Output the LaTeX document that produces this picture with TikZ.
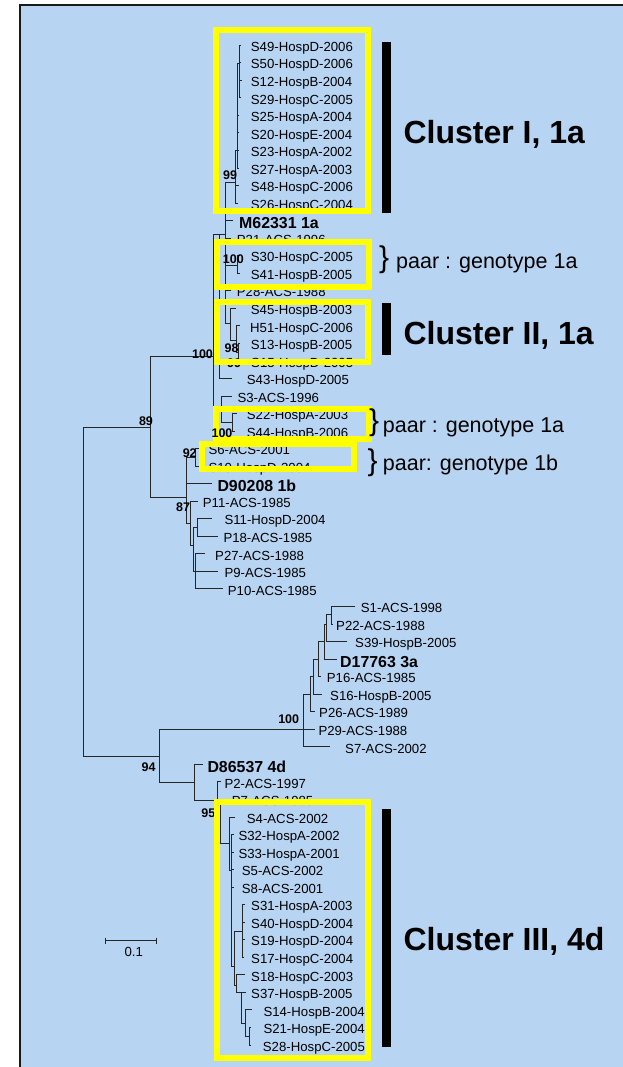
\documentclass[tikz,border=0pt]{standalone}
\usepackage{fontspec}
\setmainfont{Liberation Sans}
\definecolor{bgblue}{RGB}{183,212,242}
\definecolor{hl}{RGB}{255,255,0}
\tikzset{
 br/.style={line width=0.9pt, draw=black!85},
 lab/.style={font=\fontsize{13.2}{15}\selectfont, anchor=base west, inner sep=0pt},
 blab/.style={font=\fontsize{15.9}{18}\selectfont\bfseries, anchor=base west, inner sep=0pt},
 boot/.style={font=\fontsize{12.5}{14}\selectfont\bfseries, inner sep=0pt},
 hlbox/.style={draw=hl, line width=6pt},
 cbar/.style={fill=black},
 big/.style={font=\fontsize{32}{36}\selectfont\bfseries, anchor=base west, inner sep=0pt},
 pairtxt/.style={font=\fontsize{21.5}{24}\selectfont, anchor=base west, inner sep=0pt},
 bracetxt/.style={font=\fontsize{30}{32}\selectfont, anchor=base west, inner sep=0pt},
 framebox/.style={draw=black!90, line width=2pt},
}
\newcommand\leafL[6]{%
  \node[lab] (#1) at ({#4},{ry(#5)+4.7}) {#6};
  \coordinate (#1t) at ({#3},{ry(#5)-1.5});
  \draw[br] (#2) |- (#1t);}
\newcommand\leafB[6]{%
  \node[blab] (#1) at ({#4},{ry(#5)+6.5}) {#6};
  \coordinate (#1t) at ({#3},{ry(#5)-1.5});
  \draw[br] (#2) |- (#1t);}
\begin{document}
\begin{tikzpicture}[x=1pt,y=-1pt, declare function={ry(\i)=46.7+17.54*\i;}]
\useasboundingbox (0,0) rectangle (622,1067);
% background and frame
\fill[bgblue] (20,5.5) rectangle (630,1075);
\draw[framebox] (20,1075) -- (20,5.5) -- (630,5.5);

% internal nodes
\coordinate (root) at (83.3,591.6);
\coordinate (n89) at (150.3,427.3);
\coordinate (nA) at (213.3,356.7);
\coordinate (nA1) at (219,234);
\coordinate (nTop) at (225.7,234);
\coordinate (nI1) at (235.3,182);
\coordinate (nI2) at (237.3,150);
\coordinate (nI3) at (239.3,63);
\coordinate (n100b) at (237.7,265);
\coordinate (nII) at (230,323);
\coordinate (n98) at (236.7,340);
\coordinate (nS13) at (238.3,352);
\coordinate (nA3) at (221,407);
\coordinate (n100c) at (232.7,422);
\coordinate (nB) at (186.7,497.3);
\coordinate (nS6) at (195.7,457.5);
\coordinate (n87) at (190,523);
\coordinate (nsub) at (193.3,545);
\coordinate (nS11) at (197.7,527.5);
\coordinate (nsub2) at (195.7,571);
\coordinate (n94) at (159.3,756);
\coordinate (n3a) at (303.3,729.26);
\coordinate (n3b) at (310.7,694.2);
\coordinate (n3c) at (313.3,676.6);
\coordinate (n3d) at (318.3,659.1);
\coordinate (n3e) at (324,641.5);
\coordinate (n3f) at (326.7,624);
\coordinate (n3g) at (331.7,614.5);
\coordinate (n4d) at (194,782.3);
\coordinate (n95) at (217.3,800);
\coordinate (nIIIa) at (220,800);
\coordinate (nIII) at (229,843.3);
\coordinate (nIII2) at (231.7,870);
\coordinate (nIII3) at (234,966);
\coordinate (nC) at (242.7,931);
\coordinate (nD) at (236.7,985);
\coordinate (nE) at (241.7,992.4);
\coordinate (nF) at (245.7,1023);
\coordinate (nG) at (249,1036);

% internal edges
\foreach \p/\c in {root/n89, root/n94, n89/nA, n89/nB, nA/nA1, nA/nA3, nA1/nTop,
  nTop/nI1, nI1/nI2, nI2/nI3, nTop/n100b, nTop/nII, nII/n98, n98/nS13, nA3/n100c,
  nB/nS6, nB/n87, n87/nsub, nsub/nS11, nsub/nsub2, n94/n3a, n3a/n3b, n3b/n3c,
  n3c/n3d, n3d/n3e, n3e/n3f, n3f/n3g, n94/n4d, n4d/n95, n95/nIIIa, nIIIa/nIII,
  nIII/nIII2, nIII2/nIII3, nIII3/nC, nIII3/nD, nD/nE, nE/nF, nF/nG}
  \draw[br] (\p) |- (\c);

% leaves
\leafL{S49}{nI3}{240.5}{250.7}{0}{S49-HospD-2006}
\leafL{S50}{nI3}{240.5}{250.7}{1}{S50-HospD-2006}
\leafL{S12}{nI3}{241.7}{250.7}{2}{S12-HospB-2004}
\leafL{S29}{nI3}{240.7}{250.7}{3}{S29-HospC-2005}
\leafL{S25}{nI2}{239}{250.7}{4}{S25-HospA-2004}
\leafL{S20}{nI2}{239}{250.7}{5}{S20-HospE-2004}
\leafL{S23}{nI2}{239}{250.7}{6}{S23-HospA-2002}
\leafL{S27}{nI2}{239}{250.7}{7}{S27-HospA-2003}
\leafL{S48}{nI1}{239}{250.7}{8}{S48-HospC-2006}
\leafL{S26}{nI1}{238}{250.7}{9}{S26-HospC-2004}
\leafB{M62}{nTop}{233.3}{239}{10}{M62331 1a}
\leafL{P21}{nTop}{231}{236.7}{11}{P21-ACS-1996}
\leafL{S30}{n100b}{240}{250.7}{12}{S30-HospC-2005}
\leafL{S41}{n100b}{240}{250.7}{13}{S41-HospB-2005}
\leafL{P28}{nTop}{231}{236.7}{14}{P28-ACS-1988}
\leafL{S45}{nII}{235.7}{250.7}{15}{S45-HospB-2003}
\leafL{H51}{n98}{239.5}{250}{16}{H51-HospC-2006}
\leafL{S13}{nS13}{240}{250.7}{17}{S13-HospB-2005}
\leafL{S15}{nS13}{240}{251}{18}{S15-HospD-2005}
\leafL{S43}{nA1}{231.7}{246.7}{19}{S43-HospD-2005}
\leafL{S3}{nA3}{231.7}{237.3}{20}{S3-ACS-1996}
\leafL{S22}{n100c}{236.7}{246.7}{21}{S22-HospA-2003}
\leafL{S44}{n100c}{234.5}{246.7}{22}{S44-HospB-2006}
\leafL{S6}{nS6}{199}{208.3}{23}{S6-ACS-2001}
\leafL{S10}{nS6}{199}{208.3}{24}{S10-HospD-2004}
\leafB{D90}{nB}{211.7}{217.3}{25}{D90208 1b}
\leafL{P11}{n87}{197.7}{202.7}{26}{P11-ACS-1985}
\leafL{S11}{nS11}{211.7}{224.3}{27}{S11-HospD-2004}
\leafL{P18}{nS11}{218.3}{223.3}{28}{P18-ACS-1985}
\leafL{P27}{nsub2}{205}{215}{29}{P27-ACS-1988}
\leafL{P9}{nsub2}{218.3}{224.3}{30}{P9-ACS-1985}
\leafL{P10}{nsub2}{222.7}{227.7}{31}{P10-ACS-1985}
\leafL{S1}{n3g}{355}{360.7}{32}{S1-ACS-1998}
\leafL{P22}{n3g}{333.3}{336}{33}{P22-ACS-1988}
\leafL{S39}{n3f}{346.7}{355}{34}{S39-HospB-2005}
\leafB{D17}{n3e}{336.7}{340}{35}{D17763 3a}
\leafL{P16}{n3d}{320.7}{326.7}{36}{P16-ACS-1985}
\leafL{S16}{n3c}{321.7}{330}{37}{S16-HospB-2005}
\leafL{P26}{n3b}{315}{319}{38}{P26-ACS-1989}
\leafL{P29}{n3a}{315}{318.3}{39}{P29-ACS-1988}
\leafL{S7}{n3a}{330}{345}{40}{S7-ACS-2002}
\leafB{D86}{n4d}{203.3}{207.3}{41}{D86537 4d}
\leafL{P2}{n95}{220.5}{224.3}{42}{P2-ACS-1997}
\leafL{P7}{nIIIa}{226}{231.7}{43}{P7-ACS-1985}
\leafL{S4}{nIII}{235}{246.7}{44}{S4-ACS-2002}
\leafL{S32}{nIII2}{233.5}{238.3}{45}{S32-HospA-2002}
\leafL{S33}{nIII2}{233.5}{238.3}{46}{S33-HospA-2001}
\leafL{S5}{nIII2}{234}{241.7}{47}{S5-ACS-2002}
\leafL{S8}{nIII2}{234}{241.7}{48}{S8-ACS-2001}
\leafL{S31}{nC}{244.5}{251}{49}{S31-HospA-2003}
\leafL{S40}{nC}{245}{251}{50}{S40-HospD-2004}
\leafL{S19}{nC}{245}{251}{51}{S19-HospD-2004}
\leafL{S17}{nC}{244}{251}{52}{S17-HospC-2004}
\leafL{S18}{nD}{245}{251}{53}{S18-HospC-2003}
\leafL{S37}{nE}{246}{251}{54}{S37-HospB-2005}
\leafL{S14}{nF}{251.7}{263.3}{55}{S14-HospB-2004}
\leafL{S21}{nG}{251}{263.3}{56}{S21-HospE-2004}
\leafL{S28}{nG}{251}{262.7}{57}{S28-HospC-2005}

% bootstrap values
\node[boot] (b99a) at (230,175) {99};
\node[boot] (b100b) at (233.3,259.5) {100};
\node[boot] (b98) at (231.5,348.3) {98};
\node[boot] (b99b) at (234,363.5) {99};
\node[boot] (b100a) at (202.5,354) {100};
\node[boot] (b89) at (146,420.7) {89};
\node[boot] (b92) at (189.7,452.7) {92};
\node[boot] (b87) at (183,507.3) {87};
\node[boot] (b100d) at (288.7,719.3) {100};
\node[boot] (b94) at (148.5,766.7) {94};
\node[boot] (b95) at (208.3,812.7) {95};

% scale bar
\coordinate (sbL) at (105,940.7);
\coordinate (sbR) at (156.7,940.7);
\draw[br] (sbL) -- (sbR);
\draw[br] ([yshift=3pt]sbL) -- ([yshift=-3pt]sbL);
\draw[br] ([yshift=3pt]sbR) -- ([yshift=-3pt]sbR);
\node[lab, anchor=center] (sbtxt) at (133.8,952.3) {0.1};

% yellow highlight boxes
\draw[hlbox] (216.3,30.3) rectangle (367.7,211);
\draw[hlbox] (217.3,242.3) rectangle (368.7,287);
\draw[hlbox] (217.3,302.3) rectangle (367.7,362);
\draw[hlbox] (216.3,409) rectangle (368.7,438.7);
\draw[hlbox] (202,443.7) rectangle (353.7,468.7);
\draw[hlbox] (217,802) rectangle (368,1057.7);

% bootstrap value lying over a box edge
\node[boot] (b100c) at (222,433) {100};

% cluster bars
\fill[cbar] (382.3,41.7) rectangle (390.7,213.3);
\fill[cbar] (382.3,302.7) rectangle (390.7,355);
\fill[cbar] (382.3,809) rectangle (390.7,1046.7);

% annotations
\node[big] (c1) at (403.3,144) {Cluster I, 1a};
\node[big] (c2) at (403.3,344) {Cluster II, 1a};
\node[big] (c3) at (403.3,950.7) {Cluster III, 4d};
\node[bracetxt] (br1) at (379,267) {\}};
\node[pairtxt] (p1) at (396,268.3) {paar : genotype 1a};
\node[bracetxt] (br2) at (369,430.5) {\}};
\node[pairtxt] (p2) at (382.7,432.7) {paar : genotype 1a};
\node[bracetxt] (br3) at (367.5,470.5) {\}};
\node[pairtxt] (p3) at (382.7,470.7) {paar: genotype 1b};
\end{tikzpicture}
\end{document}
